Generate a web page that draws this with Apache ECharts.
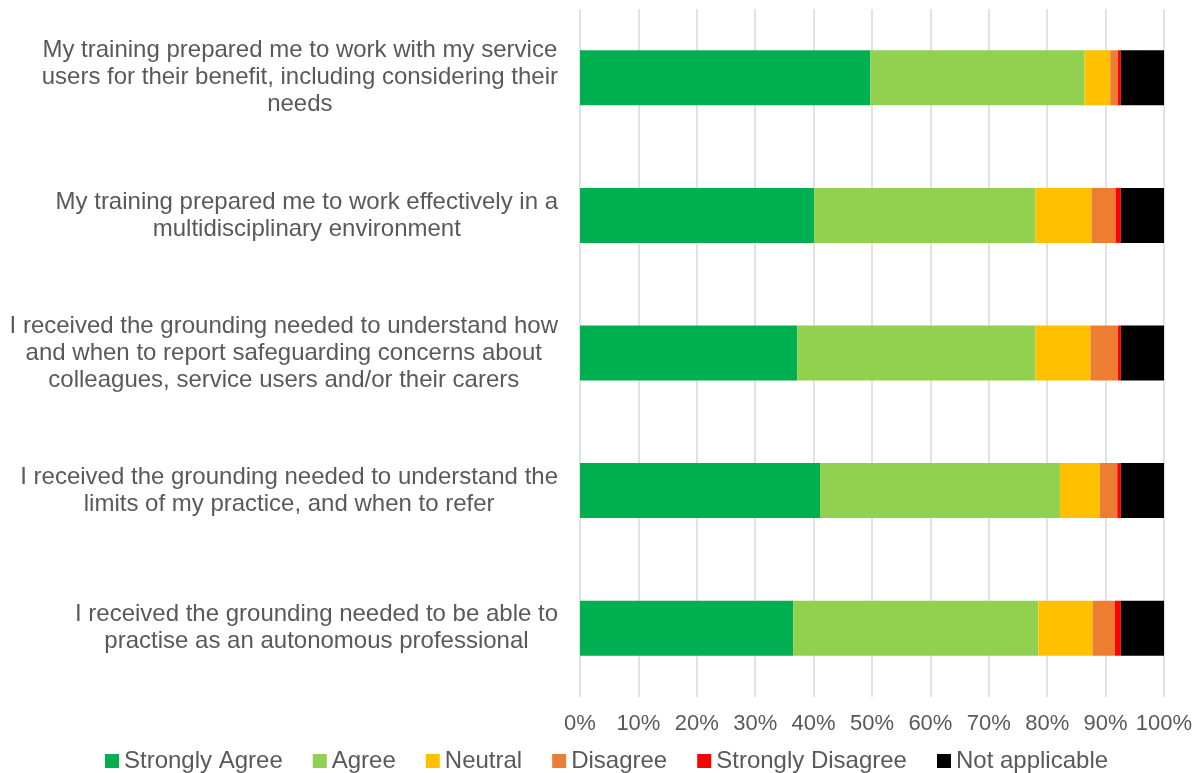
<!DOCTYPE html>
<html><head><meta charset="utf-8">
<script src="https://cdn.jsdelivr.net/npm/echarts@6/dist/echarts.min.js"></script>
<style>html,body{margin:0;padding:0;background:#fff}#c{width:1201px;height:773px}</style>
</head><body><div id="c"></div>
<script>
var categories = [
  "My training prepared me to work with my service\nusers for their benefit, including considering their\nneeds",
  "My training prepared me to work effectively in a\nmultidisciplinary environment",
  "I received the grounding needed to understand how\nand when to report safeguarding concerns about\ncolleagues, service users and/or their carers",
  "I received the grounding needed to understand the\nlimits of my practice, and when to refer",
  "I received the grounding needed to be able to\npractise as an autonomous professional"
];
var seriesNames = ["Strongly Agree","Agree","Neutral","Disagree","Strongly Disagree","Not applicable"];
var stronglyAgree    = [49.7, 40.1, 37.2, 41.1, 36.5];
var agree            = [36.7, 37.9, 40.8, 41.1, 42.0];
var neutral          = [4.4, 9.6, 9.4, 6.8, 9.3];
var disagree         = [1.3, 4.1, 4.7, 3.0, 3.8];
var stronglyDisagree = [0.5, 0.9, 0.5, 0.6, 1.0];
var notApplicable    = [7.4, 7.4, 7.4, 7.4, 7.4];
var colors = ["#00B050","#92D050","#FFC000","#ED7D31","#FF0000","#000000"];
var values = [stronglyAgree, agree, neutral, disagree, stronglyDisagree, notApplicable];

var chart = echarts.init(document.getElementById('c'), null, {renderer:'canvas'});
var font = 'Liberation Sans, Arial, sans-serif';
chart.setOption({
  animation: false,
  textStyle: {fontFamily: font},
  grid: {left: 580, right: 37, top: 9, bottom: 76},
  xAxis: {
    type: 'value', min: 0, max: 100, interval: 10,
    axisLabel: {formatter: '{value}%', color: '#595959', fontSize: 22, margin: 16, fontFamily: font},
    axisLine: {show: false}, axisTick: {show: false},
    splitLine: {show: true, lineStyle: {color: '#D9D9D9', width: 1.5}}
  },
  yAxis: {
    type: 'category', data: categories, inverse: true,
    axisLine: {show: false}, axisTick: {show: false},
    axisLabel: {
      color: '#595959', fontSize: 24, lineHeight: 27, margin: 22, align: 'right', fontFamily: font,
      formatter: function (v) {
        return v.split('\n').map(function (l) { return '{c|' + l + '}'; }).join('\n');
      },
      rich: {c: {align: 'center', color: '#595959', fontSize: 24, lineHeight: 27, fontFamily: font}}
    }
  },
  legend: {
    top: 749, left: 105, itemWidth: 14, itemHeight: 14, itemGap: 30, padding: 0,
    icon: 'rect',
    textStyle: {color: '#595959', fontSize: 24, fontFamily: font},
    data: seriesNames
  },
  series: seriesNames.map(function(n, i){
    return {name: n, type: 'bar', stack: 'total', data: values[i], barWidth: 55,
      itemStyle: {color: colors[i]}};
  })
});
</script></body></html>
